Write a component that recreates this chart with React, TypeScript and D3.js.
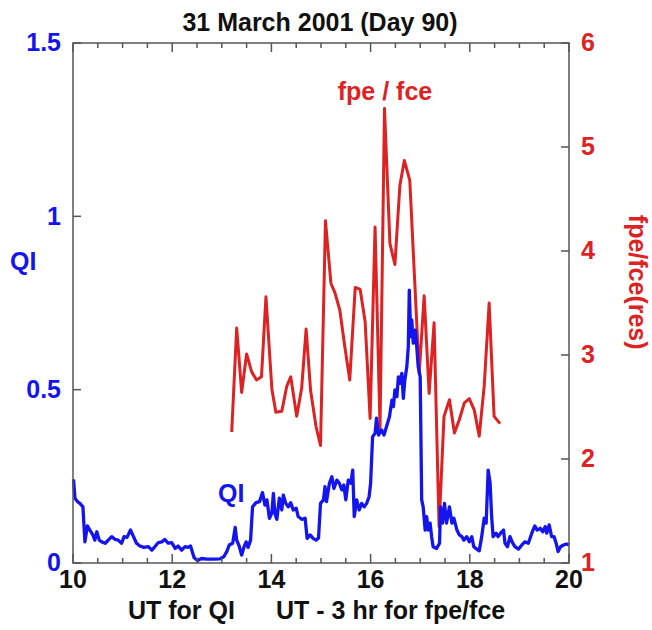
import React from "react";
import * as d3 from "d3";

// QI series (UT hours, QI)
const qiTime = [
  10.01, 10.04, 10.09, 10.14, 10.2, 10.24, 10.29, 10.34, 10.4, 10.44, 10.48, 10.53, 10.58, 10.65, 10.71, 10.78,
  10.85, 10.91, 10.98, 11.03, 11.09, 11.16, 11.22, 11.28, 11.35, 11.43, 11.52, 11.59, 11.65, 11.72, 11.79, 11.85,
  11.92, 11.99, 12.06, 12.12, 12.19, 12.26, 12.32, 12.37, 12.44, 12.51, 12.59, 12.7, 12.83, 12.96, 13.04, 13.1,
  13.15, 13.22, 13.27, 13.3, 13.35, 13.4, 13.45, 13.49, 13.53, 13.58, 13.62, 13.69, 13.76, 13.82, 13.87, 13.91,
  13.96, 14.01, 14.04, 14.07, 14.11, 14.16, 14.21, 14.24, 14.29, 14.34, 14.39, 14.44, 14.5, 14.54, 14.61, 14.68,
  14.72, 14.78, 14.84, 14.9, 14.95, 14.99, 15.05, 15.08, 15.11, 15.17, 15.22, 15.26, 15.32, 15.37, 15.42, 15.46,
  15.5, 15.55, 15.6, 15.64, 15.67, 15.72, 15.77, 15.82, 15.87, 15.92, 15.97, 16.0, 16.04, 16.09, 16.12, 16.16,
  16.22, 16.27, 16.32, 16.38, 16.43, 16.46, 16.49, 16.53, 16.56, 16.59, 16.63, 16.66, 16.69, 16.73, 16.76, 16.78,
  16.81, 16.83, 16.86, 16.9, 16.93, 16.96, 17.0, 17.03, 17.06, 17.1, 17.13, 17.16, 17.2, 17.23, 17.26, 17.33,
  17.39, 17.41, 17.45, 17.49, 17.53, 17.59, 17.64, 17.68, 17.74, 17.79, 17.84, 17.88, 17.94, 17.99, 18.04, 18.08,
  18.14, 18.19, 18.24, 18.29, 18.33, 18.37, 18.41, 18.44, 18.47, 18.53, 18.57, 18.62, 18.68, 18.71, 18.76, 18.81,
  18.86, 18.91, 18.98, 19.05, 19.11, 19.18, 19.25, 19.31, 19.36, 19.42, 19.47, 19.52, 19.55, 19.6, 19.65, 19.7,
  19.74, 19.78, 19.83, 19.89, 19.95, 20.0,
];
const qiValue = [
  0.241, 0.187, 0.177, 0.172, 0.162, 0.061, 0.107, 0.095, 0.081, 0.066, 0.09, 0.066, 0.061, 0.057, 0.066, 0.076,
  0.068, 0.066, 0.057, 0.076, 0.074, 0.095, 0.076, 0.057, 0.049, 0.045, 0.047, 0.037, 0.047, 0.059, 0.061, 0.068,
  0.057, 0.059, 0.042, 0.049, 0.037, 0.047, 0.045, 0.049, 0.016, 0.007, 0.013, 0.011, 0.011, 0.012, 0.018, 0.033,
  0.052, 0.057, 0.103, 0.066, 0.049, 0.023, 0.047, 0.061, 0.045, 0.066, 0.162, 0.174, 0.177, 0.203, 0.167, 0.182,
  0.129, 0.145, 0.201, 0.143, 0.126, 0.187, 0.153, 0.196, 0.172, 0.162, 0.174, 0.153, 0.158, 0.134, 0.126, 0.129,
  0.071, 0.081, 0.071, 0.066, 0.072, 0.172, 0.182, 0.22, 0.177, 0.23, 0.249, 0.215, 0.239, 0.23, 0.211, 0.225,
  0.182, 0.239, 0.23, 0.268, 0.134, 0.182, 0.153, 0.172, 0.162, 0.172, 0.191, 0.23, 0.364, 0.374, 0.418, 0.369,
  0.384, 0.369, 0.393, 0.422, 0.47, 0.451, 0.499, 0.48, 0.537, 0.518, 0.547, 0.475, 0.528, 0.566, 0.624, 0.787,
  0.653, 0.701, 0.634, 0.672, 0.624, 0.566, 0.537, 0.182, 0.162, 0.095, 0.134, 0.095, 0.115, 0.076, 0.047, 0.042,
  0.057, 0.162, 0.115, 0.172, 0.115, 0.162, 0.115, 0.129, 0.095, 0.081, 0.076, 0.066, 0.076, 0.061, 0.076, 0.047,
  0.04, 0.035, 0.076, 0.129, 0.115, 0.268, 0.23, 0.134, 0.076, 0.086, 0.076, 0.086, 0.095, 0.057, 0.047, 0.076,
  0.059, 0.047, 0.04, 0.052, 0.061, 0.057, 0.086, 0.107, 0.095, 0.1, 0.09, 0.105, 0.086, 0.11, 0.076, 0.076,
  0.057, 0.033, 0.047, 0.052, 0.055, 0.052,
];

// fpe/fce series (UT - 3 hr, ratio)
const fpeTime = [
  13.2, 13.3, 13.4, 13.5, 13.6, 13.7, 13.8, 13.89, 14.01, 14.09, 14.21, 14.31, 14.39, 14.51, 14.61, 14.7, 14.79,
  14.9, 14.99, 15.09, 15.2, 15.28, 15.38, 15.48, 15.58, 15.69, 15.79, 15.89, 15.99, 16.09, 16.19, 16.28, 16.39,
  16.49, 16.59, 16.68, 16.79, 16.98, 17.08, 17.18, 17.28, 17.38, 17.48, 17.59, 17.69, 17.79, 17.89, 17.99, 18.09,
  18.19, 18.29, 18.39, 18.49, 18.61,
];
const fpeValue = [
  2.26, 3.26, 2.64, 3.01, 2.84, 2.76, 2.79, 3.56, 2.67, 2.45, 2.46, 2.7, 2.79, 2.41, 2.68, 3.25, 2.66, 2.31, 2.13,
  4.29, 3.69, 3.6, 3.43, 3.08, 2.76, 3.65, 3.63, 3.32, 2.39, 4.23, 2.3, 5.37, 4.07, 3.87, 4.63, 4.87, 4.68, 2.82,
  3.57, 2.63, 3.31, 1.35, 2.41, 2.57, 2.25, 2.38, 2.54, 2.58, 2.47, 2.22, 2.7, 3.5, 2.41, 2.34,
];

const xMajorTicks = [10, 12, 14, 16, 18, 20];
const xMinorTicks = d3.range(10, 20.01, 0.5);
const leftTicks = [0, 0.5, 1, 1.5];
const leftTickLabels = ["0", "0.5", "1", "1.5"];
const rightTicks = [1, 2, 3, 4, 5, 6];

const BLUE = "#1414ee";
const RED = "#dc2222";
const FRAME = "#555";
const FONT = "'Liberation Sans', Arial, Helvetica, sans-serif";
const FS = 25;

export default function App() {
  const x = d3.scaleLinear().domain([10, 20]).range([73, 569]);
  const yL = d3.scaleLinear().domain([0, 1.5]).range([563, 43]);
  const yR = d3.scaleLinear().domain([1, 6]).range([563, 43]);

  const qiLine = d3
    .line<number>()
    .x((_, i) => x(qiTime[i]))
    .y((d) => yL(d));
  const fpeLine = d3
    .line<number>()
    .x((_, i) => x(fpeTime[i]))
    .y((d) => yR(d));

  const [x0, x1] = x.range();
  const [yb, yt] = yL.range();

  return (
    <svg
      width={652}
      height={630}
      style={{ position: "absolute", left: 0, top: 0, background: "#fff" }}
      fontFamily={FONT}
      fontWeight="bold"
    >
      <rect x={0} y={0} width={652} height={630} fill="#fff" />
      {/* title */}
      <text x={320} y={31} textAnchor="middle" fontSize={FS} fill="#111">
        31 March 2001 (Day 90)
      </text>

      {/* series */}
      <path d={fpeLine(fpeValue) || ""} fill="none" stroke={RED} strokeWidth={3} strokeLinejoin="round" />
      <path d={qiLine(qiValue) || ""} fill="none" stroke={BLUE} strokeWidth={3.3} strokeLinejoin="round" />

      {/* frame */}
      <rect x={x0} y={yt} width={x1 - x0} height={yb - yt} fill="none" stroke={FRAME} strokeWidth={1.5} />

      {/* x ticks top and bottom */}
      {xMinorTicks.map((t) => {
        const major = xMajorTicks.includes(t);
        const len = major ? 9 : 5;
        return (
          <g key={"xt" + t}>
            <line x1={x(t)} x2={x(t)} y1={yb} y2={yb - len} stroke={FRAME} strokeWidth={1.5} />
            <line x1={x(t)} x2={x(t)} y1={yt} y2={yt + len} stroke={FRAME} strokeWidth={1.5} />
          </g>
        );
      })}
      {xMajorTicks.map((t) => (
        <text key={"xl" + t} x={x(t)} y={588} textAnchor="middle" fontSize={FS} fill="#111">
          {t}
        </text>
      ))}

      {/* left axis */}
      {leftTicks.map((v, i) => (
        <g key={"lt" + v}>
          <line x1={x0} x2={x0 + 8} y1={yL(v)} y2={yL(v)} stroke={FRAME} strokeWidth={1.5} />
          <text x={61} y={yL(v)} dy="0.33em" textAnchor="end" fontSize={FS} fill={BLUE}>
            {leftTickLabels[i]}
          </text>
        </g>
      ))}
      <text x={10} y={yL(0.87)} dy="0.35em" fontSize={FS} fill={BLUE}>
        QI
      </text>

      {/* right axis */}
      {rightTicks.map((v) => (
        <g key={"rt" + v}>
          <line x1={x1} x2={x1 - 8} y1={yR(v)} y2={yR(v)} stroke={FRAME} strokeWidth={1.5} />
          <text x={581} y={yR(v)} dy="0.33em" textAnchor="start" fontSize={FS} fill={RED}>
            {v}
          </text>
        </g>
      ))}
      <text
        transform={`translate(629, ${yR(3.7)}) rotate(90)`}
        textAnchor="middle"
        fontSize={FS}
        fill={RED}
      >
        fpe/fce(res)
      </text>

      {/* in-plot labels */}
      <text x={385} y={100} textAnchor="middle" fontSize={FS} fill={RED}>
        fpe / fce
      </text>
      <text x={218} y={502} fontSize={FS} fill={BLUE}>
        QI
      </text>

      {/* x axis titles */}
      <text x={128} y={619} fontSize={FS} fill="#111">
        UT for QI
      </text>
      <text x={276} y={619} fontSize={FS} fill="#111">
        UT - 3 hr for fpe/fce
      </text>
    </svg>
  );
}
